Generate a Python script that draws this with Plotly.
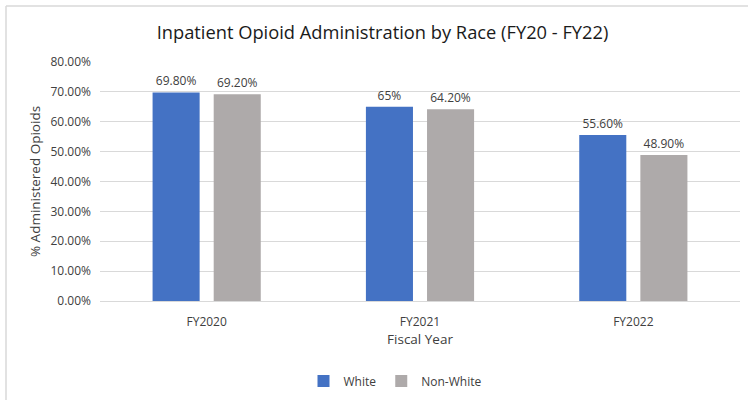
import plotly.graph_objects as go

categories = ["FY2020", "FY2021", "FY2022"]
white_values = [69.8, 65, 55.6]
nonwhite_values = [69.2, 64.2, 48.9]
white_labels = ["69.80%", "65%", "55.60%"]
nonwhite_labels = ["69.20%", "64.20%", "48.90%"]
y_ticks = [0, 10, 20, 30, 40, 50, 60, 70, 80]
y_tick_labels = ["0.00%", "10.00%", "20.00%", "30.00%", "40.00%",
                 "50.00%", "60.00%", "70.00%", "80.00%"]

FONT = "Open Sans"
W, H = 748, 403
L, R, T, B = 100, 8, 62, 102
pw, ph = W - L - R, H - T - B

def px_x(x):
    return (x - L) / pw

def px_y(y):
    return (H - B - y) / ph

fig = go.Figure()
fig.add_trace(go.Bar(
    x=categories, y=white_values, name="White",
    marker=dict(color="#4472C4", line=dict(width=0)),
    text=white_labels, textposition="outside", cliponaxis=False,
    textfont=dict(family=FONT, size=12, color="#404040"),
))
fig.add_trace(go.Bar(
    x=categories, y=nonwhite_values, name="Non-White",
    marker=dict(color="#AEAAAA", line=dict(width=0)),
    text=nonwhite_labels, textposition="outside", cliponaxis=False,
    textfont=dict(family=FONT, size=12, color="#404040"),
))

fig.update_layout(
    width=W, height=H,
    margin=dict(l=L, r=R, t=T, b=B),
    paper_bgcolor="white", plot_bgcolor="white",
    barmode="group", bargap=0.427, bargroupgap=0.23,
    font=dict(family=FONT, color="#404040", size=12),
    title=dict(text="Inpatient Opioid Administration by Race (FY20 - FY22)",
               x=382.5 / W, xanchor="center", y=1 - 33 / H, yanchor="middle",
               font=dict(family=FONT, size=18.3, color="#1a1a1a")),
    xaxis=dict(showgrid=False, showline=True, linecolor="#D9D9D9", linewidth=1,
               ticks="", ticklabelstandoff=10, tickfont=dict(size=12, color="#404040"),
               title=dict(text="Fiscal Year", font=dict(size=13.5, color="#404040"), standoff=5)),
    yaxis=dict(range=[0, 80], tickvals=y_ticks, ticktext=y_tick_labels,
               showgrid=True, gridcolor="#D9D9D9", gridwidth=1, zeroline=False,
               ticks="", ticklen=0, ticklabelstandoff=8, tickfont=dict(size=12, color="#404040"),
               title=dict(text="% Administered Opioids", font=dict(size=13.5, color="#404040"), standoff=6)),
    legend=dict(orientation="h", x=px_x(395), xanchor="center", y=px_y(381), yanchor="middle",
                font=dict(size=12, color="#404040"), itemwidth=30,
                bgcolor="rgba(0,0,0,0)"),
    showlegend=True,
)

fig.add_shape(type="line", xref="paper", yref="paper",
              x0=px_x(6), x1=px_x(6), y0=px_y(6), y1=px_y(400),
              line=dict(color="#D9D9D9", width=1.5))
fig.add_shape(type="line", xref="paper", yref="paper",
              x0=px_x(6), x1=px_x(748), y0=px_y(6), y1=px_y(6),
              line=dict(color="#D9D9D9", width=1.5))

fig.write_html("out.html")
